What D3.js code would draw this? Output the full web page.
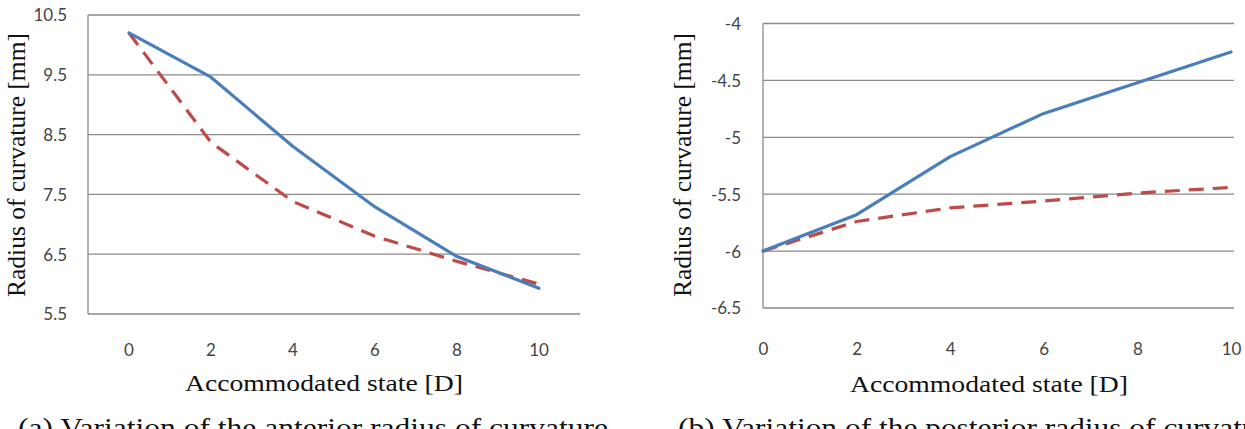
<!DOCTYPE html>
<html><head><meta charset="utf-8">
<script src="https://cdn.jsdelivr.net/npm/d3@7"></script>
<style>
html,body{margin:0;padding:0;background:#fff;}
svg{display:block;}
.tick text{font-family:Lato,"Open Sans",sans-serif;}
</style></head>
<body>
<svg id="chart" width="1245" height="429"></svg>
<script>
// Data
const states = [0, 2, 4, 6, 8, 10];
const anteriorSolid = [10.2, 9.46, 8.3, 7.29, 6.46, 5.93];
const anteriorDashed = [10.2, 8.37, 7.38, 6.8, 6.38, 6.0];
const anteriorTicks = [5.5, 6.5, 7.5, 8.5, 9.5, 10.5];
const posteriorSolid = [-6.0, -5.68, -5.17, -4.79, -4.52, -4.25];
const posteriorDashed = [-6.0, -5.74, -5.62, -5.56, -5.49, -5.44];
const posteriorTicks = [-6.5, -6, -5.5, -5, -4.5, -4];
const xTitle = "Accommodated state [D]";
const yTitle = "Radius of curvature [mm]";
const captionA = "(a) Variation of the anterior radius of curvature";
const captionB = "(b) Variation of the posterior radius of curvature";

const BLUE = "#4a7ebb", RED = "#be4b48", GRID = "#8a8a8a", TICK = "#444";
const svg = d3.select("#chart");

function drawPanel(cfg) {
  const g = svg.append("g");
  const y = d3.scaleLinear().domain(cfg.yDomain).range([cfg.bottom, cfg.top]);
  let xPos, xAxis;
  if (cfg.band) {
    const xb = d3.scaleBand().domain(states).range([cfg.left, cfg.right]).padding(0);
    xPos = d => xb(d) + xb.bandwidth() / 2;
    xAxis = d3.axisBottom(xb).tickSize(0).tickPadding(0);
  } else {
    const xl = d3.scaleLinear().domain([0, 10]).range([cfg.left, cfg.right]);
    xPos = d => xl(d);
    xAxis = d3.axisBottom(xl).tickValues(states).tickSize(0).tickPadding(0);
  }
  // gridlines
  g.append("g").selectAll("line").data(cfg.ticks).join("line")
    .attr("x1", cfg.left).attr("x2", cfg.gridRight)
    .attr("y1", d => y(d)).attr("y2", d => y(d))
    .attr("stroke", GRID).attr("stroke-width", 1.3);
  // vertical axis line
  g.append("line").attr("x1", cfg.left).attr("x2", cfg.left)
    .attr("y1", y(cfg.yDomain[1])).attr("y2", y(cfg.yDomain[0]))
    .attr("stroke", GRID).attr("stroke-width", 1.3);
  // y axis labels
  const ya = g.append("g").attr("transform", `translate(${cfg.yLabelX},0)`)
    .call(d3.axisLeft(y).tickValues(cfg.ticks).tickSize(0).tickPadding(0).tickFormat(d => String(d)));
  ya.select(".domain").remove();
  ya.selectAll("text").attr("font-size", 17).attr("fill", TICK).attr("dy", "0.35em");
  // x axis labels
  const xa = g.append("g").attr("transform", `translate(0,${cfg.xLabelY})`).call(xAxis);
  xa.select(".domain").remove();
  xa.selectAll("text").attr("font-size", 17).attr("fill", TICK).attr("dy", "0.35em");
  // lines
  const line = d3.line().x((d, i) => xPos(states[i])).y(d => y(d));
  g.append("path").datum(cfg.dashed).attr("d", line).attr("fill", "none")
    .attr("stroke", RED).attr("stroke-width", 3.2).attr("stroke-dasharray", "15,9")
    .attr("stroke-linejoin", "round");
  g.append("path").datum(cfg.solid).attr("d", line).attr("fill", "none")
    .attr("stroke", BLUE).attr("stroke-width", 3.2).attr("stroke-linejoin", "round")
    .attr("stroke-linecap", "round");
  // titles
  g.append("text").attr("x", cfg.xTitleX).attr("y", cfg.xTitleY)
    .attr("text-anchor", "middle").attr("font-family", "'Liberation Serif', serif")
    .attr("font-size", 24).attr("fill", "#111")
    .attr("textLength", 278).attr("lengthAdjust", "spacingAndGlyphs").text(xTitle);
  g.append("text").attr("transform", `translate(${cfg.yTitleX},${cfg.yTitleY}) rotate(-90)`)
    .attr("text-anchor", "middle").attr("font-family", "'Liberation Serif', serif")
    .attr("font-size", 26).attr("fill", "#111")
    .attr("textLength", 264).attr("lengthAdjust", "spacingAndGlyphs").text(yTitle);
  g.append("text").attr("x", cfg.capX).attr("y", 437)
    .attr("font-family", "'Liberation Serif', serif").attr("font-size", 28).attr("fill", "#111")
    .attr("textLength", cfg.capLen).attr("lengthAdjust", "spacingAndGlyphs").text(cfg.caption);
}

drawPanel({
  band: true, left: 88, right: 580, gridRight: 580, top: 15, bottom: 314,
  yDomain: [5.5, 10.5], ticks: anteriorTicks, solid: anteriorSolid, dashed: anteriorDashed,
  yLabelX: 67, xLabelY: 350, xTitleX: 324, xTitleY: 391, yTitleX: 25, yTitleY: 165,
  caption: captionA, capX: 18, capLen: 590
});
drawPanel({
  band: false, left: 763, right: 1231, gridRight: 1234, top: 23.5, bottom: 308,
  yDomain: [-6.5, -4], ticks: posteriorTicks, solid: posteriorSolid, dashed: posteriorDashed,
  yLabelX: 741, xLabelY: 349, xTitleX: 989, xTitleY: 392, yTitleX: 691, yTitleY: 165,
  caption: captionB, capX: 678, capLen: 604
});
</script>
</body></html>
